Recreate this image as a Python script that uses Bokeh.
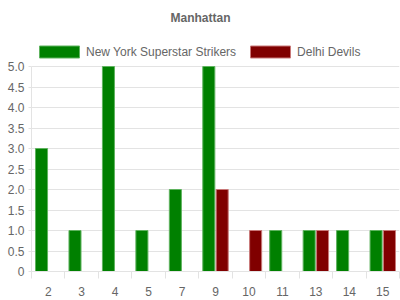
from bokeh.plotting import figure
from bokeh.models import ColumnDataSource, FixedTicker, Legend, LegendItem, CustomJSTickFormatter
from bokeh.embed import file_html
from bokeh.resources import INLINE

categories = ["2", "3", "4", "5", "7", "9", "10", "11", "13", "14", "15"]
ny_values = [3, 1, 5, 1, 2, 5, 0, 1, 1, 1, 1]
delhi_values = [0, 0, 0, 0, 0, 2, 1, 0, 1, 0, 1]
y_ticks = [0, 0.5, 1.0, 1.5, 2.0, 2.5, 3.0, 3.5, 4.0, 4.5, 5.0]
series_names = ["New York Superstar Strikers", "Delhi Devils"]

FONT = "Liberation Sans"
TXT = "#666666"
GRID = "#e3e3e3"

n = len(categories)
idx = list(range(n))
y_max = y_ticks[-1]

# frame: top edge at TOP px; value y_max sits at 66 px, 0 at 271 px
TOP, Y5, Y0 = 30, 66, 271
y_top = y_max * (Y0 - TOP) / (Y0 - Y5)

def src(vals, off):
    xs = [i + off for i, v in zip(idx, vals) if v > 0]
    ts = [v for v in vals if v > 0]
    return ColumnDataSource(dict(x=xs, top=ts))

p = figure(width=400, height=300, output_backend="svg", toolbar_location=None,
           x_range=(-0.5, n - 0.5), y_range=(0, y_top),
           min_border_left=31, min_border_right=1, min_border_top=TOP, min_border_bottom=29)
p.outline_line_color = None
p.background_fill_color = "white"
p.border_fill_color = "white"

p.title.text = "Manhattan"
p.title.text_font = FONT
p.title.text_font_size = "12px"
p.title.text_font_style = "bold"
p.title.text_color = TXT
p.title.align = "left"
p.title.offset = 139
p.title.standoff = 12

r1 = p.vbar(x="x", top="top", width=0.36, bottom=0, source=src(ny_values, -0.2),
            fill_color="#008000", line_color="#5fb35f", line_width=1)
r2 = p.vbar(x="x", top="top", width=0.36, bottom=0, source=src(delhi_values, 0.2),
            fill_color="#800000", line_color="#c87878", line_width=1)

# y axis
p.yaxis.ticker = FixedTicker(ticks=y_ticks)
p.yaxis.bounds = (0, y_max)
p.yaxis.formatter = CustomJSTickFormatter(code="return tick == 0 ? '0' : tick.toFixed(1);")
p.yaxis.axis_line_color = GRID
p.yaxis.major_tick_line_color = GRID
p.yaxis.major_tick_out = 3
p.yaxis.major_tick_in = 0
p.yaxis.minor_tick_line_color = None
p.yaxis.major_label_standoff = 4
p.ygrid.ticker = FixedTicker(ticks=y_ticks)
p.ygrid.grid_line_color = GRID
p.xgrid.grid_line_color = None

# x axis
p.xaxis.ticker = FixedTicker(ticks=idx, minor_ticks=[i - 0.5 for i in range(n + 1)])
p.xaxis.major_label_overrides = {i: c for i, c in zip(idx, categories)}
p.xaxis.axis_line_color = GRID
p.xaxis.major_tick_line_color = None
p.xaxis.minor_tick_line_color = GRID
p.xaxis.minor_tick_out = 7
p.xaxis.minor_tick_in = 0
p.xaxis.major_label_standoff = 8

for ax in (p.xaxis[0], p.yaxis[0]):
    ax.major_label_text_font = FONT
    ax.major_label_text_font_size = "12px"
    ax.major_label_text_color = TXT

legend = Legend(items=[LegendItem(label=series_names[0], renderers=[r1]),
                       LegendItem(label=series_names[1], renderers=[r2])],
                orientation="horizontal", location=(3, 212),
                glyph_width=50, glyph_height=15, label_standoff=2, spacing=9,
                padding=0, margin=0, border_line_color=None, background_fill_alpha=0,
                label_text_font=FONT, label_text_font_size="12px", label_text_color=TXT,
                label_height=12)
p.add_layout(legend, "center")

open("out.html", "w").write(file_html(p, INLINE))
